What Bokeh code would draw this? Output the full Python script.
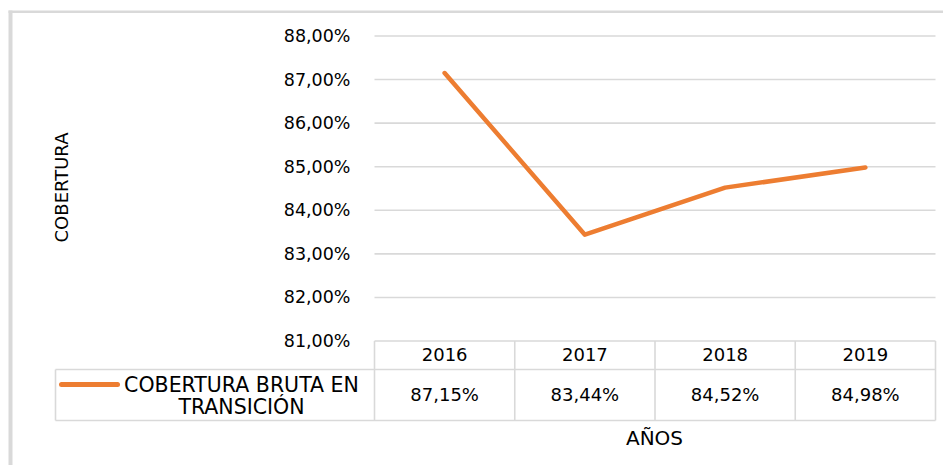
from bokeh.plotting import figure
from bokeh.models import Range1d
from bokeh.core.properties import value
from bokeh.embed import file_html
from bokeh.resources import INLINE

# ---------------- data ----------------
years = ["2016", "2017", "2018", "2019"]
coverage = [87.15, 83.44, 84.52, 84.98]
series_name = ["COBERTURA BRUTA EN", "TRANSICIÓN"]
y_ticks = [81, 82, 83, 84, 85, 86, 87, 88]
x_title = "AÑOS"
y_title = "COBERTURA"


def pct(v):
    return f"{v:.2f}".replace(".", ",") + "%"


value_labels = [pct(v) for v in coverage]
y_tick_labels = [pct(t) for t in y_ticks]

# ---------------- layout (figure pixels) ----------------
W, H = 943, 465
PL, PR = 374.0, 935.0        # plot area left / right
PT, PB = 35.5, 340.5         # plot area top (88%) / bottom (81%)
YMIN, YMAX = min(y_ticks), max(y_ticks)
n = len(years)
sx = (PR - PL) / n
sy = (PB - PT) / (YMAX - YMIN)
xs = -PL / sx
ytop = YMAX + PT / sy


def X(px):
    return xs + px / sx


def Y(py):
    return ytop - py / sy


FONT = value("DejaVu Sans")
GRID = "#d9d9d9"
ORANGE = "#ed7d31"
TXT = "#000000"

p = figure(width=W, height=H, x_range=Range1d(xs, xs + W / sx),
           y_range=Range1d(ytop - H / sy, ytop),
           x_axis_location=None, y_axis_location=None,
           output_backend="svg", toolbar_location=None, min_border=0,
           tools="")
p.grid.visible = False
p.outline_line_color = None
p.background_fill_color = "white"
p.border_fill_color = "white"

# outer chart border (left and top visible)
p.segment(x0=[X(10), X(8)], y0=[Y(10), Y(11.25)], x1=[X(10), X(W)], y1=[Y(H), Y(11.25)],
          line_color=GRID, line_width=[4, 2.5])

# horizontal gridlines
p.segment(x0=[0] * len(y_ticks), x1=[n] * len(y_ticks), y0=y_ticks, y1=y_ticks,
          line_color=GRID, line_width=1.6)

# y tick labels
p.text(x=[X(350)] * len(y_ticks), y=y_ticks, text=y_tick_labels,
       text_align="right", text_baseline="middle", text_font=FONT,
       text_font_size="17.5px", text_color=TXT)

# data line
cx = [i + 0.5 for i in range(n)]
p.line(x=cx, y=coverage, line_color=ORANGE, line_width=4.5,
       line_join="round", line_cap="round")

# ---------------- data table ----------------
row_mid = Y(369)
tbl_bot = Y(420)
leg_left = X(55)
# vertical lines of year columns
p.segment(x0=list(range(n + 1)), x1=list(range(n + 1)),
          y0=[YMIN] * (n + 1), y1=[tbl_bot] * (n + 1),
          line_color=GRID, line_width=1.6)
# horizontal lines
p.segment(x0=[leg_left, leg_left], x1=[n, n], y0=[row_mid, tbl_bot],
          y1=[row_mid, tbl_bot], line_color=GRID, line_width=1.6)
# legend cell left border
p.segment(x0=[leg_left], x1=[leg_left], y0=[row_mid], y1=[tbl_bot],
          line_color=GRID, line_width=1.6)

# header years
p.text(x=cx, y=[Y(354)] * n, text=years, text_align="center",
       text_baseline="middle", text_font=FONT, text_font_size="18px",
       text_color=TXT)
# values
p.text(x=cx, y=[Y(394)] * n, text=value_labels, text_align="center",
       text_baseline="middle", text_font=FONT, text_font_size="18px",
       text_color=TXT)

# legend key line
p.line(x=[X(61), X(117)], y=[Y(384), Y(384)], line_color=ORANGE,
       line_width=5, line_cap="round")
# legend text
p.text(x=[X(241), X(241)], y=[Y(384), Y(406)], text=series_name,
       text_align="center", text_baseline="middle", text_font=FONT,
       text_font_size="20.5px", text_color=TXT)

# axis titles
p.text(x=[X(654)], y=[Y(437)], text=[x_title], text_align="center",
       text_baseline="middle", text_font=FONT, text_font_size="20px",
       text_color=TXT)
p.text(x=[X(61)], y=[Y(187)], text=[y_title], angle=1.5707963,
       text_align="center", text_baseline="middle", text_font=FONT,
       text_font_size="18px", text_color=TXT)

open("out.html", "w").write(file_html(p, INLINE))
